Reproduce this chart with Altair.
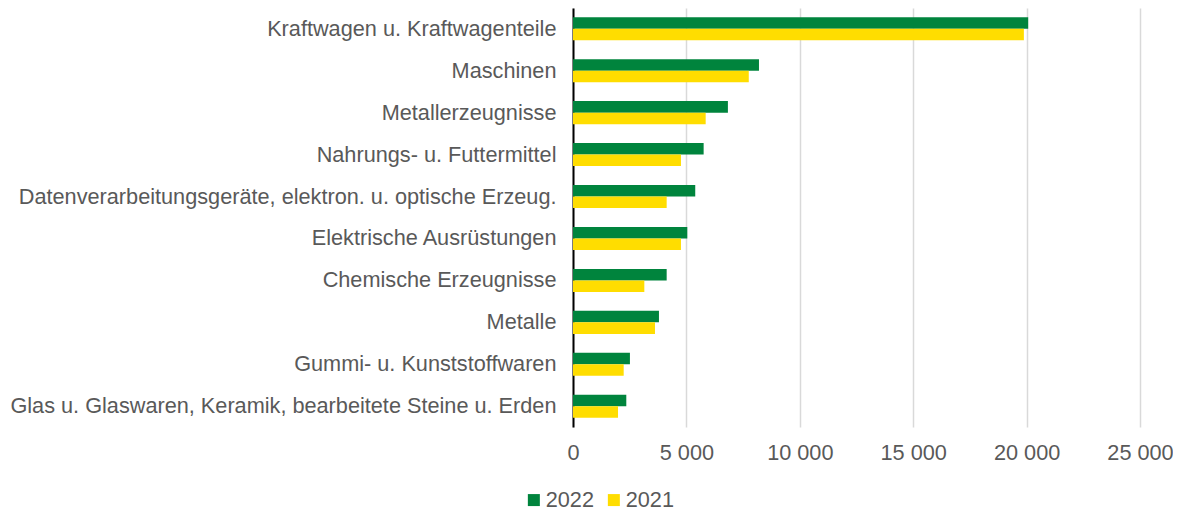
import altair as alt
import pandas as pd

categories = [
    "Kraftwagen u. Kraftwagenteile",
    "Maschinen",
    "Metallerzeugnisse",
    "Nahrungs- u. Futtermittel",
    "Datenverarbeitungsgeräte, elektron. u. optische Erzeug.",
    "Elektrische Ausrüstungen",
    "Chemische Erzeugnisse",
    "Metalle",
    "Gummi- u. Kunststoffwaren",
    "Glas u. Glaswaren, Keramik, bearbeitete Steine u. Erden",
]
values_2022 = [20070, 8200, 6830, 5760, 5390, 5040, 4130, 3790, 2510, 2350]
values_2021 = [19880, 7750, 5850, 4760, 4130, 4760, 3145, 3615, 2235, 1985]
years = ["2022", "2021"]
colors = ["#00843D", "#FFDD00"]
x_ticks = [0, 5000, 10000, 15000, 20000, 25000]

rows = []
for c, v22, v21 in zip(categories, values_2022, values_2021):
    rows.append({"Kategorie": c, "Jahr": "2022", "Wert": v22})
    rows.append({"Kategorie": c, "Jahr": "2021", "Wert": v21})
df = pd.DataFrame(rows)

FONT = "Liberation Sans"
GREY = "#595959"
FS = 21.7

chart = (
    alt.Chart(df)
    .mark_bar()
    .encode(
        y=alt.Y(
            "Kategorie:N",
            sort=categories,
            title=None,
            scale=alt.Scale(paddingInner=0.45, paddingOuter=0.22),
            axis=alt.Axis(
                domain=True,
                domainColor="#000000",
                domainWidth=2,
                ticks=False,
                labelFontSize=FS,
                labelColor=GREY,
                labelFont=FONT,
                labelPadding=17,
                labelLimit=800,
                grid=False,
            ),
        ),
        yOffset=alt.YOffset("Jahr:N", sort=years, scale=alt.Scale(paddingInner=0, paddingOuter=0)),
        x=alt.X(
            "Wert:Q",
            title=None,
            scale=alt.Scale(domain=[0, 25000], nice=False),
            axis=alt.Axis(
                values=x_ticks,
                domain=False,
                ticks=False,
                grid=True,
                gridColor="#d9d9d9",
                gridWidth=1.5,
                labelFontSize=FS,
                labelColor=GREY,
                labelFont=FONT,
                labelPadding=15,
                labelFlush=False,
                labelOverlap=False,
                labelExpr="replace(format(datum.value, ',d'), ',', ' ')",
            ),
        ),
        color=alt.Color(
            "Jahr:N",
            scale=alt.Scale(domain=years, range=colors),
            legend=alt.Legend(
                title=None,
                orient="none",
                direction="horizontal",
                legendX=-50,
                legendY=481,
                symbolType="square",
                symbolSize=144,
                symbolStrokeWidth=0,
                labelFontSize=FS,
                labelColor=GREY,
                labelFont=FONT,
                labelOffset=1,
                columnPadding=9,
            ),
        ),
    )
    .properties(
        width=567,
        height=419,
        autosize=alt.AutoSizeParams(type="none"),
        padding={"left": 565, "top": 0, "right": 33, "bottom": 84},
    )
    .configure(font=FONT, background="white")
    .configure_view(strokeWidth=0, stroke="transparent")
)

chart.save("out.html", embed_options={"renderer": "svg", "actions": False})
